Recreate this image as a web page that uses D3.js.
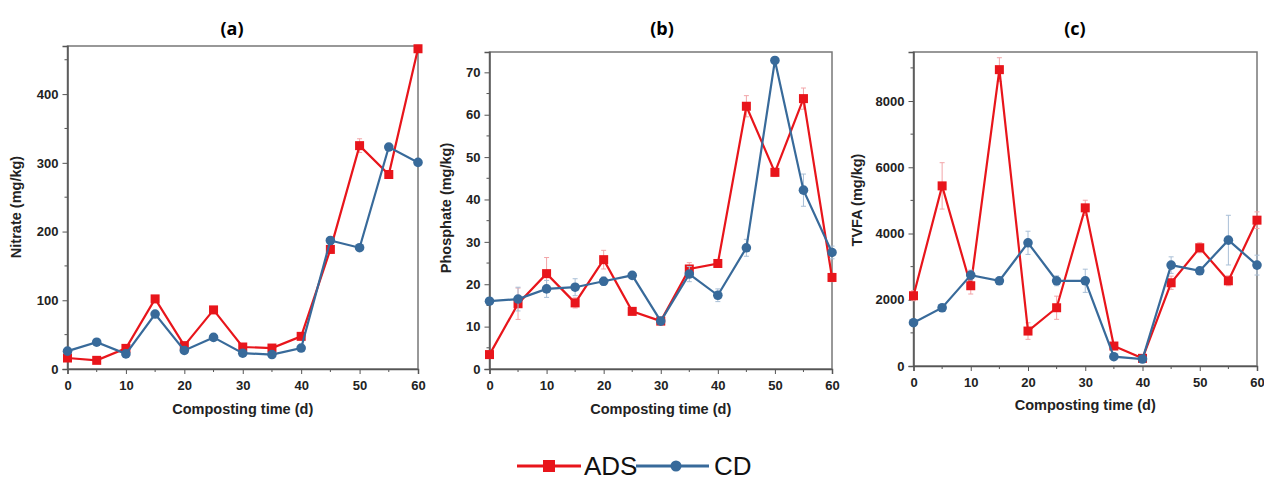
<!DOCTYPE html>
<html>
<head>
<meta charset="utf-8">
<script src="https://cdn.jsdelivr.net/npm/d3@7"></script>
<style>
  body { margin: 0; background: #fff; }
  svg { display: block; font-family: "Liberation Sans", Arial, sans-serif; }
  .tick text { font-weight: bold; font-size: 13px; fill: #222; }
  .axis path, .axis line { stroke: #555; }
</style>
</head>
<body>
<div id="chart"></div>
<script>
// composting days
const days = [0, 5, 10, 15, 20, 25, 30, 35, 40, 45, 50, 55, 60]

// (a) nitrate
const nitrateADS = [16, 12.6, 30, 102, 34, 86, 32, 30.5, 47.5, 174, 325, 283, 466]
const nitrateCD  = [26, 39, 22, 80, 27, 46, 23, 21, 30.5, 187, 176.5, 323, 300.6]
const nitrateADSerr = [2, 2, 3, 4, 2, 3, 2, 2, 3, 6, 10, 5, 5]
const nitrateCDerr  = [2, 2, 2, 3, 2, 2, 2, 2, 2, 5, 4, 5, 4]

// (b) phosphate
const phosphateADS = [3.4, 15.4, 22.5, 15.6, 25.8, 13.6, 11.3, 23.6, 24.9, 62, 46.4, 63.8, 21.6]
const phosphateCD  = [16, 16.5, 18.9, 19.3, 20.7, 22.1, 11.3, 22.4, 17.4, 28.6, 72.8, 42.2, 27.5]
const phosphateADSerr = [0.8, 3.7, 3.8, 1.2, 2.2, 0.8, 0.8, 1.5, 0.8, 2.5, 1.0, 2.5, 1.0]
const phosphateCDerr  = [0.5, 2.8, 2.0, 2.0, 1.0, 0.5, 0.8, 1.8, 1.5, 2.0, 0.8, 3.8, 1.5]

// (c) TVFA
const tvfaADS = [2121, 5438, 2423, 8947, 1055, 1759, 4775, 603, 231, 2513, 3569, 2573, 4403]
const tvfaCD  = [1307, 1759, 2744, 2573, 3719, 2573, 2573, 281, 211, 3046, 2875, 3800, 3046]
const tvfaADSerr = [150, 700, 250, 360, 250, 350, 230, 100, 50, 200, 150, 150, 250]
const tvfaCDerr  = [100, 100, 150, 100, 350, 150, 350, 60, 40, 250, 100, 750, 300]

const xTicks = [0, 10, 20, 30, 40, 50, 60]

const RED = '#e8151b'
const BLUE = '#386a9a'
const RED_ERR = '#f2a5a8'
const BLUE_ERR = '#a9bfd6'

const panels = [
  { title: '(a)', ylabel: 'Nitrate (mg/kg)', ads: nitrateADS, cd: nitrateCD, adsErr: nitrateADSerr, cdErr: nitrateCDerr,
    ymax: 470, yTicks: [0, 100, 200, 300, 400], yMinor: 50,
    box: [67.5, 418, 46, 369], titleX: 232, xTitleY: 414, yTitleX: 21, yTitleY: 207 },
  { title: '(b)', ylabel: 'Phosphate (mg/kg)', ads: phosphateADS, cd: phosphateCD, adsErr: phosphateADSerr, cdErr: phosphateCDerr,
    ymax: 74.8, yTicks: [0, 10, 20, 30, 40, 50, 60, 70], yMinor: 5,
    box: [489.5, 832, 52, 369], titleX: 662, xTitleY: 414, yTitleX: 451, yTitleY: 208 },
  { title: '(c)', ylabel: 'TVFA (mg/kg)', ads: tvfaADS, cd: tvfaCD, adsErr: tvfaADSerr, cdErr: tvfaCDerr,
    ymax: 9480, yTicks: [0, 2000, 4000, 6000, 8000], yMinor: 1000,
    box: [913.5, 1257, 52, 366], titleX: 1075, xTitleY: 410, yTitleX: 862, yTitleY: 200 }
]

const svg = d3.select('#chart').append('svg')
  .attr('width', 1264)
  .attr('height', 481)

panels.forEach(p => {
  const [l, r, t, b] = p.box
  const x = d3.scaleLinear().domain([0, 60]).range([l, r])
  const y = d3.scaleLinear().domain([0, p.ymax]).range([b, t])

  const g = svg.append('g')

  // frame
  g.append('rect')
    .attr('x', l).attr('y', t)
    .attr('width', r - l).attr('height', b - t)
    .attr('fill', 'none')
    .attr('stroke', '#777')
    .attr('stroke-width', 1.5)

  // minor ticks
  const xMinor = d3.range(5, 60, 10)
  g.append('g').selectAll('line').data(xMinor).join('line')
    .attr('x1', d => x(d)).attr('x2', d => x(d))
    .attr('y1', b).attr('y2', b + 3)
    .attr('stroke', '#555')
  const yMinor = d3.range(p.yMinor, p.ymax, p.yMinor * 2)
  g.append('g').selectAll('line').data(yMinor).join('line')
    .attr('y1', d => y(d)).attr('y2', d => y(d))
    .attr('x1', l).attr('x2', l - 3)
    .attr('stroke', '#555')

  const xAxis = d3.axisBottom(x).tickValues(xTicks).tickSize(5).tickPadding(7).tickFormat(d3.format('d'))
  const yAxis = d3.axisLeft(y).tickValues(p.yTicks).tickSize(5).tickPadding(4).tickFormat(d3.format('d'))

  g.append('g')
    .attr('class', 'axis')
    .attr('transform', `translate(0,${b})`)
    .call(xAxis)
    .call(s => s.select('.domain').attr('stroke-width', 1.5))
  g.append('g')
    .attr('class', 'axis')
    .attr('transform', `translate(${l},0)`)
    .call(yAxis)
    .call(s => s.select('.domain').attr('stroke-width', 1.5))

  // titles
  g.append('text')
    .attr('x', p.titleX).attr('y', 35)
    .attr('text-anchor', 'middle')
    .style('font-family', '"Open Sans", "DejaVu Sans", sans-serif')
    .style('font-weight', 'bold')
    .style('font-size', '18px')
    .text(p.title)

  g.append('text')
    .attr('x', (l + r) / 2).attr('y', p.xTitleY)
    .attr('text-anchor', 'middle')
    .style('font-weight', 'bold')
    .style('font-size', '14.5px')
    .attr('fill', '#222')
    .text('Composting time (d)')

  g.append('text')
    .attr('transform', `translate(${p.yTitleX},${p.yTitleY}) rotate(-90)`)
    .attr('text-anchor', 'middle')
    .style('font-weight', 'bold')
    .style('font-size', '14.5px')
    .attr('fill', '#222')
    .text(p.ylabel)

  const series = [
    { vals: p.ads, err: p.adsErr, color: RED, errColor: RED_ERR, shape: 'square' },
    { vals: p.cd, err: p.cdErr, color: BLUE, errColor: BLUE_ERR, shape: 'circle' }
  ]

  series.forEach(s => {
    const pts = days.map((d, i) => ({ d, v: s.vals[i], e: s.err[i] }))

    // error bars
    const eb = g.append('g').attr('stroke', s.errColor).attr('stroke-width', 1)
    eb.selectAll('line.v').data(pts).join('line')
      .attr('x1', d => x(d.d)).attr('x2', d => x(d.d))
      .attr('y1', d => y(d.v - d.e)).attr('y2', d => y(d.v + d.e))
    eb.selectAll('line.cap').data(pts.flatMap(d => [d.v - d.e, d.v + d.e].map(v => ({ d: d.d, v })))).join('line')
      .attr('x1', d => x(d.d) - 2.5).attr('x2', d => x(d.d) + 2.5)
      .attr('y1', d => y(d.v)).attr('y2', d => y(d.v))

    const line = d3.line().x(d => x(d.d)).y(d => y(d.v))
    g.append('path')
      .datum(pts)
      .attr('d', line)
      .attr('fill', 'none')
      .attr('stroke', s.color)
      .attr('stroke-width', 2.2)

    if (s.shape === 'square') {
      g.append('g').selectAll('rect').data(pts).join('rect')
        .attr('x', d => x(d.d) - 4.5).attr('y', d => y(d.v) - 4.5)
        .attr('width', 9).attr('height', 9)
        .attr('fill', s.color)
    } else {
      g.append('g').selectAll('circle').data(pts).join('circle')
        .attr('cx', d => x(d.d)).attr('cy', d => y(d.v))
        .attr('r', 4.8)
        .attr('fill', s.color)
    }
  })
})

// legend
const legend = svg.append('g')
legend.append('line').attr('x1', 517).attr('x2', 581).attr('y1', 466).attr('y2', 466)
  .attr('stroke', RED).attr('stroke-width', 3)
legend.append('rect').attr('x', 543).attr('y', 460).attr('width', 12).attr('height', 12).attr('fill', RED)
legend.append('text').attr('x', 584).attr('y', 475)
  .style('font-size', '26px').attr('fill', '#111').text('ADS')
legend.append('line').attr('x1', 636).attr('x2', 709).attr('y1', 466).attr('y2', 466)
  .attr('stroke', BLUE).attr('stroke-width', 3)
legend.append('circle').attr('cx', 676).attr('cy', 466).attr('r', 5.5).attr('fill', BLUE)
legend.append('text').attr('x', 714).attr('y', 475)
  .style('font-size', '26px').attr('fill', '#111').text('CD')
</script>
</body>
</html>
